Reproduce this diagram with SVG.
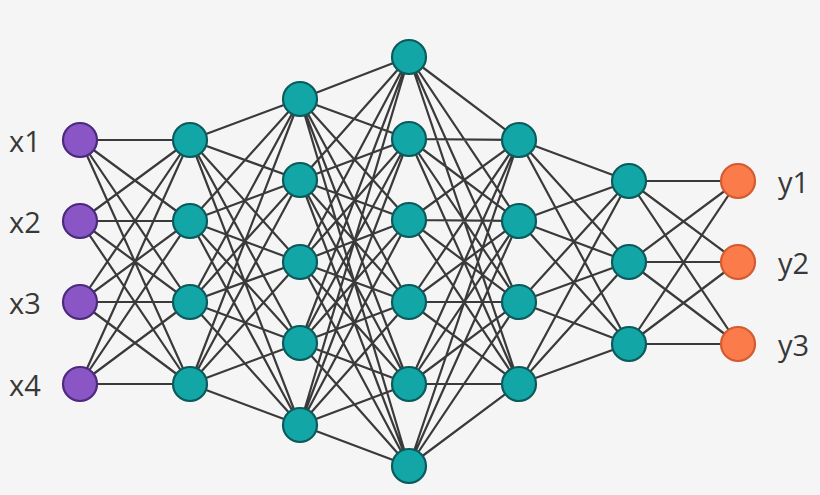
<svg xmlns="http://www.w3.org/2000/svg" width="820" height="495" viewBox="0 0 820 495">
<style>
.bg{fill:#f5f5f5}
.c{fill:none;stroke:#3a3a3a;stroke-width:2.2;stroke-linecap:round}
.in{fill:#8a55c5;stroke:#4b2a7e;stroke-width:2.2}
.hd{fill:#12a6a6;stroke:#0d5a5c;stroke-width:2.2}
.out{fill:#fb7b4b;stroke:#d45a30;stroke-width:2.2}
.t{font-family:"Open Sans","Noto Sans","Liberation Sans",sans-serif;font-size:29px;fill:#383838}
</style>
<rect class="bg" x="0" y="0" width="820" height="495"/>
<g id="connectors">
<path class="c" d="M80 140L190 140M80 140L190 221M80 140L190 302M80 140L190 384M80 221L190 140M80 221L190 221M80 221L190 302M80 221L190 384M80 302L190 140M80 302L190 221M80 302L190 302M80 302L190 384M80 384L190 140M80 384L190 221M80 384L190 302M80 384L190 384"/>
<path class="c" d="M190 140L300 99M190 140L300 180M190 140L300 262M190 140L300 343M190 140L300 425M190 221L300 99M190 221L300 180M190 221L300 262M190 221L300 343M190 221L300 425M190 302L300 99M190 302L300 180M190 302L300 262M190 302L300 343M190 302L300 425M190 384L300 99M190 384L300 180M190 384L300 262M190 384L300 343M190 384L300 425"/>
<path class="c" d="M300 99L409 57M300 99L409 139M300 99L409 220M300 99L409 302M300 99L409 384M300 99L409 466M300 180L409 57M300 180L409 139M300 180L409 220M300 180L409 302M300 180L409 384M300 180L409 466M300 262L409 57M300 262L409 139M300 262L409 220M300 262L409 302M300 262L409 384M300 262L409 466M300 343L409 57M300 343L409 139M300 343L409 220M300 343L409 302M300 343L409 384M300 343L409 466M300 425L409 57M300 425L409 139M300 425L409 220M300 425L409 302M300 425L409 384M300 425L409 466"/>
<path class="c" d="M409 57L519 140M409 57L519 221M409 57L519 302M409 57L519 384M409 139L519 140M409 139L519 221M409 139L519 302M409 139L519 384M409 220L519 140M409 220L519 221M409 220L519 302M409 220L519 384M409 302L519 140M409 302L519 221M409 302L519 302M409 302L519 384M409 384L519 140M409 384L519 221M409 384L519 302M409 384L519 384M409 466L519 140M409 466L519 221M409 466L519 302M409 466L519 384"/>
<path class="c" d="M519 140L629 181M519 140L629 262M519 140L629 344M519 221L629 181M519 221L629 262M519 221L629 344M519 302L629 181M519 302L629 262M519 302L629 344M519 384L629 181M519 384L629 262M519 384L629 344"/>
<path class="c" d="M629 181L738 181M629 181L738 262M629 181L738 344M629 262L738 181M629 262L738 262M629 262L738 344M629 344L738 181M629 344L738 262M629 344L738 344"/>
</g>
<g id="input-x1"><circle class="in" cx="80" cy="140" r="17"/><text class="t" x="9" y="152">x1</text></g>
<g id="input-x2"><circle class="in" cx="80" cy="221" r="17"/><text class="t" x="9" y="233">x2</text></g>
<g id="input-x3"><circle class="in" cx="80" cy="302" r="17"/><text class="t" x="9" y="314">x3</text></g>
<g id="input-x4"><circle class="in" cx="80" cy="384" r="17"/><text class="t" x="9" y="396">x4</text></g>
<g id="h1-1"><circle class="hd" cx="190" cy="140" r="17"/></g>
<g id="h1-2"><circle class="hd" cx="190" cy="221" r="17"/></g>
<g id="h1-3"><circle class="hd" cx="190" cy="302" r="17"/></g>
<g id="h1-4"><circle class="hd" cx="190" cy="384" r="17"/></g>
<g id="h2-1"><circle class="hd" cx="300" cy="99" r="17"/></g>
<g id="h2-2"><circle class="hd" cx="300" cy="180" r="17"/></g>
<g id="h2-3"><circle class="hd" cx="300" cy="262" r="17"/></g>
<g id="h2-4"><circle class="hd" cx="300" cy="343" r="17"/></g>
<g id="h2-5"><circle class="hd" cx="300" cy="425" r="17"/></g>
<g id="h3-1"><circle class="hd" cx="409" cy="57" r="17"/></g>
<g id="h3-2"><circle class="hd" cx="409" cy="139" r="17"/></g>
<g id="h3-3"><circle class="hd" cx="409" cy="220" r="17"/></g>
<g id="h3-4"><circle class="hd" cx="409" cy="302" r="17"/></g>
<g id="h3-5"><circle class="hd" cx="409" cy="384" r="17"/></g>
<g id="h3-6"><circle class="hd" cx="409" cy="466" r="17"/></g>
<g id="h4-1"><circle class="hd" cx="519" cy="140" r="17"/></g>
<g id="h4-2"><circle class="hd" cx="519" cy="221" r="17"/></g>
<g id="h4-3"><circle class="hd" cx="519" cy="302" r="17"/></g>
<g id="h4-4"><circle class="hd" cx="519" cy="384" r="17"/></g>
<g id="h5-1"><circle class="hd" cx="629" cy="181" r="17"/></g>
<g id="h5-2"><circle class="hd" cx="629" cy="262" r="17"/></g>
<g id="h5-3"><circle class="hd" cx="629" cy="344" r="17"/></g>
<g id="output-y1"><circle class="out" cx="738" cy="181" r="17"/><text class="t" x="778" y="193">y1</text></g>
<g id="output-y2"><circle class="out" cx="738" cy="262" r="17"/><text class="t" x="778" y="274">y2</text></g>
<g id="output-y3"><circle class="out" cx="738" cy="344" r="17"/><text class="t" x="778" y="356">y3</text></g>
</svg>
